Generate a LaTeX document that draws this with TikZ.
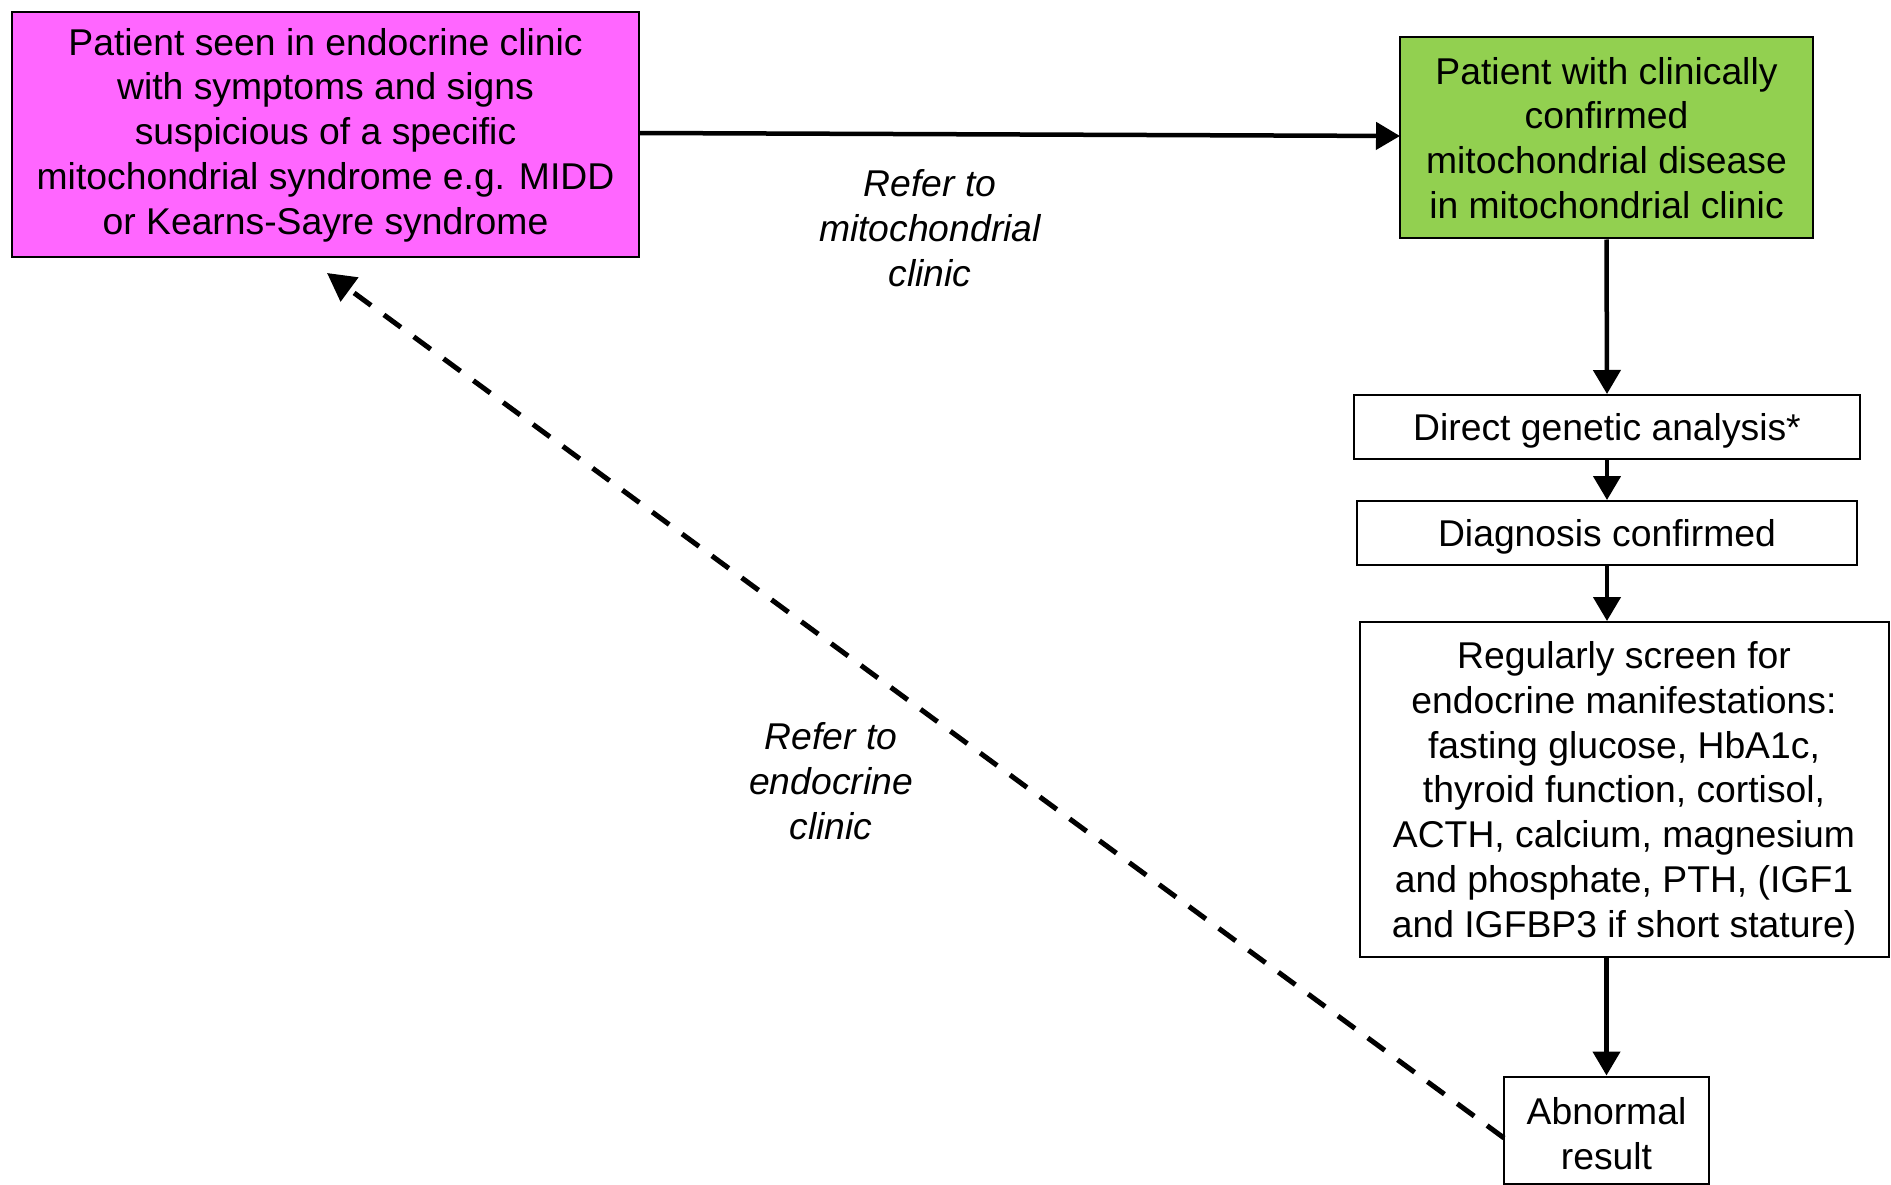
\documentclass[tikz,border=0pt]{standalone}
\usepackage{fontspec}
\setmainfont{Liberation Sans}
\usetikzlibrary{arrows.meta}
\definecolor{pinkfill}{RGB}{255,102,255}
\definecolor{greenfill}{RGB}{146,208,80}
\newcommand{\lowstrut}{\rule{0pt}{34.5pt}}
\begin{document}
\begin{tikzpicture}[x=1pt,y=-1pt,
  box/.style={draw=black, line width=2pt, align=center, inner sep=0pt,
    font=\fontsize{37.3}{44.8}\selectfont},
  lbl/.style={align=center, inner sep=0pt, font=\fontsize{37.3}{45}\selectfont\itshape},
  conn/.style={line width=4.5pt, -{Triangle[length=24pt,width=27pt]}},
  back/.style={line width=5pt, dash pattern=on 21pt off 16pt, -{Triangle[length=28pt,width=29pt]}}
]
\useasboundingbox (0,0) rectangle (1891,1185);
\node[box, fill=pinkfill, minimum width=627pt, minimum height=245pt] (pink) at (325.5,135)
  {Patient seen in endocrine clinic\\with symptoms and signs\\suspicious of a specific\\mitochondrial syndrome e.g. MIDD\\or Kearns-Sayre syndrome};
\node[box, fill=greenfill, minimum width=413pt, minimum height=201pt] (green) at (1606.5,138)
  {Patient with clinically\\confirmed\\mitochondrial disease\\in mitochondrial clinic};
\node[box, minimum width=506pt, minimum height=64pt] (dga) at (1607,427)
  {\lowstrut Direct genetic analysis*};
\node[box, minimum width=500pt, minimum height=64pt] (diag) at (1607,533)
  {\lowstrut Diagnosis confirmed};
\node[box, minimum width=529pt, minimum height=335pt] (reg) at (1624,789.5)
  {\lowstrut Regularly screen for\\endocrine manifestations:\\fasting glucose, HbA1c,\\thyroid function, cortisol,\\ACTH, calcium, magnesium\\and phosphate, PTH, (IGF1\\and IGFBP3 if short stature)};
\node[box, minimum width=205pt, minimum height=107pt] (abn) at (1606.5,1130)
  {\lowstrut Abnormal\\result};
\node[lbl] (l1) at (930,228) {Refer to\\mitochondrial\\clinic};
\node[lbl] (l2) at (831,781) {Refer to\\endocrine\\clinic};
\coordinate (pinkout) at (639,133);
\coordinate (greenin) at (1400,136);
\coordinate (abnout) at (1504,1138);
\coordinate (pinkin) at (327,273);
\draw[conn] (pinkout) -- (greenin);
\draw[conn] (green.south) -- (dga.north);
\draw[conn] (dga.south) -- (diag.north);
\draw[conn] (diag.south) -- (diag.south |- reg.north);
\draw[conn] (reg.south -| abn.north) -- (abn.north);
\draw[back] (abnout) -- (pinkin);
\end{tikzpicture}
\end{document}
